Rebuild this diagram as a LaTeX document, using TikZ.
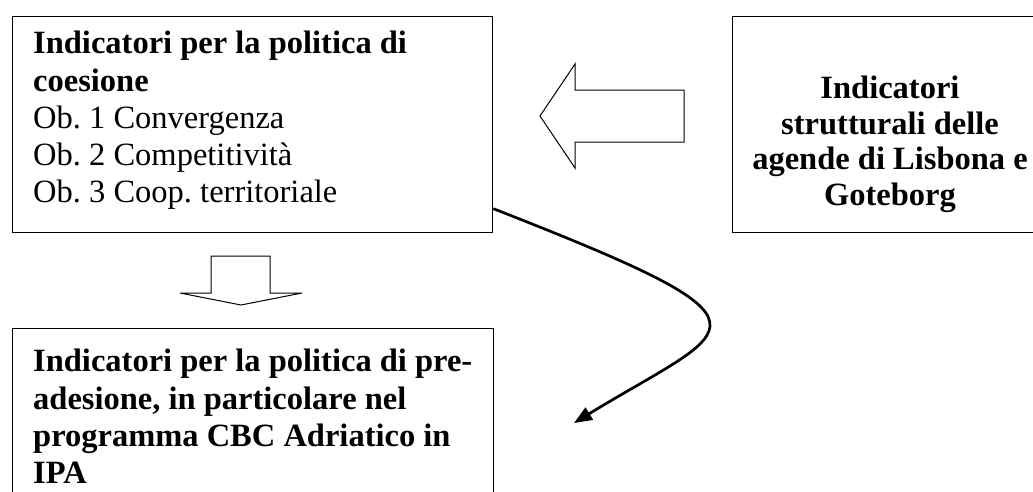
\documentclass[tikz,border=0pt]{standalone}
\usepackage{fontspec}
\setmainfont{Liberation Serif}
\usetikzlibrary{arrows.meta}
\newcommand\kaderfont{\fontsize{32.5}{37.3}\selectfont\frenchspacing}
\newcommand\lisbonafont{\fontsize{32.5}{35.5}\selectfont\frenchspacing}

\begin{document}
\begin{tikzpicture}[x=1pt,y=-1pt,
    kader/.style={draw,line width=1.3pt,inner sep=0pt,anchor=north west},
    tekst/.style={font=\kaderfont,inner sep=0pt,align=left,anchor=north west},
    blok/.style={draw,line width=1pt,line join=miter}]
    \useasboundingbox (0,0) rectangle (1033,491);
    \clip (0,0) rectangle (1033,491);
    % kaders
    \node[kader,minimum width=480pt,minimum height=216pt] (coesione) at (12,16) {};
    \node[kader,minimum width=320pt,minimum height=216pt] (lisbona) at (732,16) {};
    \node[kader,minimum width=481pt,minimum height=200pt] (ipa) at (12,328) {};
    % teksten
    \node[tekst] (coesionetxt) at (33,31) {\textbf{Indicatori per la politica di}\\
        \textbf{coesione}\\ Ob. 1 Convergenza\\ Ob. 2 Competitività\\
        Ob. 3 Coop. territoriale};
    \node[tekst,font=\lisbonafont,align=center,anchor=north] (lisbonatxt) at (890,76)
        {\textbf{Indicatori}\\ \textbf{strutturali delle}\\
        \textbf{agende di Lisbona e}\\ \textbf{Goteborg}};
    \node[tekst] (ipatxt) at (33,349) {\textbf{Indicatori per la politica di pre-}\\
        \textbf{adesione, in particolare nel}\\
        \textbf{programma CBC Adriatico in}\\ \textbf{IPA}};
    % blokpijlen
    \draw[blok] (540,116) -- (575,64) -- (575,90) -- (684,90) -- (684,142)
        -- (575,142) -- (575,168) -- cycle;
    \draw[blok] (211,256) -- (270,256) -- (270,293) -- (302,293) -- (241,305)
        -- (180,293) -- (211,293) -- cycle;
    % kromme pijl
    \coordinate (punta) at (574,423);
    \draw[line width=2.7pt,-{Triangle[length=18pt,width=14pt]}]
        ([yshift=-84pt]coesione.east) .. controls (796,327) and (736,324) .. (punta);
\end{tikzpicture}
\end{document}
